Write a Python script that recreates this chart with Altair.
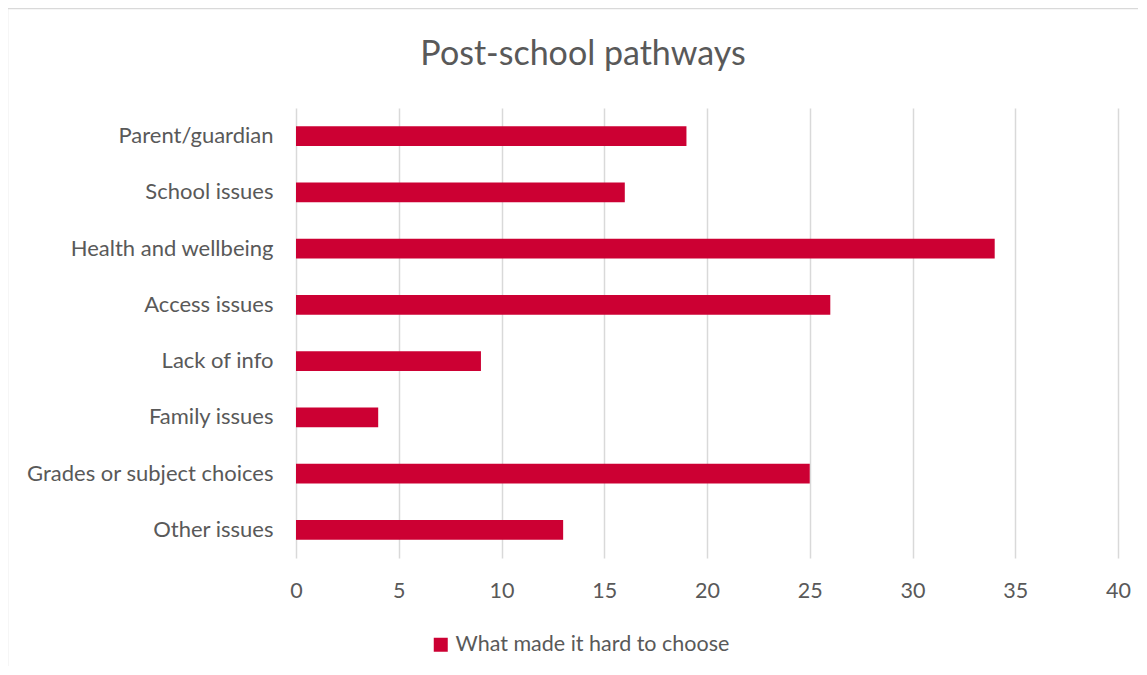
import altair as alt
import pandas as pd

categories = ["Parent/guardian", "School issues", "Health and wellbeing\u2002", "Access issues",
              "Lack of info", "Family issues", "Grades or subject choices", "Other issues\u2002"]
values = [19, 16, 34, 26, 9, 4, 25, 13]
series_name = "What made it hard to choose"
x_ticks = [0, 5, 10, 15, 20, 25, 30, 35, 40]
title_text = "Post-school pathways"

FONT = "Lato"
GREY = "#595959"
RED = "#CC0033"
LBL = 22

df = pd.DataFrame({"category": categories, "value": values, "series": [series_name] * len(categories)})

W, H = 822, 450

bars = alt.Chart(df).mark_bar(color=RED).encode(
    x=alt.X("value:Q", scale=alt.Scale(domain=[0, 40], nice=False),
            axis=alt.Axis(values=x_ticks, title=None, grid=True, gridColor="#d9d9d9", gridWidth=1.5,
                          domain=False, ticks=False, labelPadding=22, labelFontSize=21.5,
                          labelFlush=False, labelColor=GREY, labelFont=FONT)),
    y=alt.Y("category:N", sort=categories, scale=alt.Scale(paddingInner=0.645, paddingOuter=0.3225),
            axis=alt.Axis(title=None, domain=False, ticks=False, labelPadding=23, labelFontSize=LBL,
                          labelColor=GREY, labelFont=FONT, labelLimit=400)),
    fill=alt.Fill("series:N", scale=alt.Scale(range=[RED]),
                  legend=alt.Legend(title=None, orient="none", legendX=134, legendY=526,
                                    symbolType="square", symbolSize=196, symbolStrokeWidth=0,
                                    labelFontSize=21.5, labelColor=GREY, labelFont=FONT,
                                    labelOffset=4, labelLimit=600)),
)

title_df = pd.DataFrame({"t": [title_text]})
title = alt.Chart(title_df).mark_text(font=FONT, fontSize=34, color=GREY, align="center",
                                      baseline="middle").encode(
    text="t:N", x=alt.value(287), y=alt.value(-53))

border_top = alt.Chart(title_df).mark_rule(color="#d9d9d9", strokeWidth=1.5).encode(
    x=alt.value(-288.5), x2=alt.value(900), y=alt.value(-99.5))
border_left = alt.Chart(title_df).mark_rule(color="#d9d9d9", strokeWidth=1.5).encode(
    x=alt.value(-288.5), y=alt.value(-99.5), y2=alt.value(600))

chart = alt.layer(border_top, border_left, bars, title).properties(
    width=W, height=H,
    autosize=alt.AutoSizeParams(type="none"),
    padding={"left": 288, "top": 100, "right": 20, "bottom": 108},
).configure(background="white", view=alt.ViewConfig(stroke="transparent", strokeWidth=0))

chart.save("out.html", embed_options={"renderer": "svg", "actions": False})
